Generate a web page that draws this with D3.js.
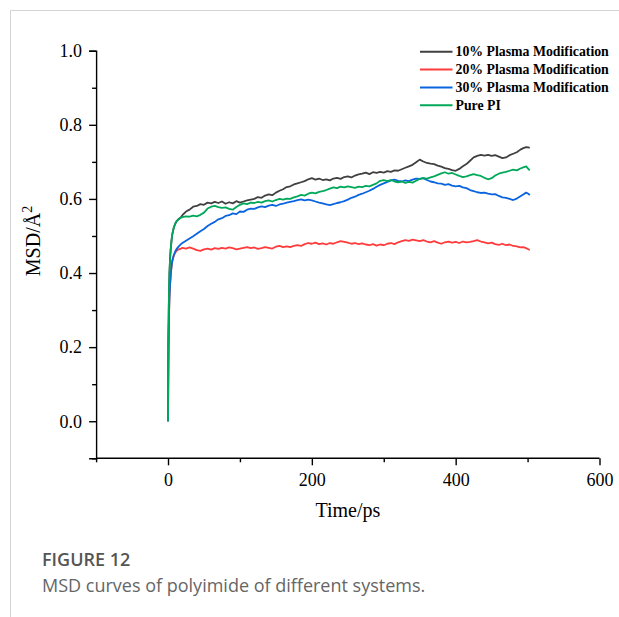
<!DOCTYPE html>
<html>
<head>
<meta charset="utf-8">
<script src="https://cdn.jsdelivr.net/npm/d3@7"></script>
<style>
  html, body { margin: 0; padding: 0; background: #fff; }
  svg { display: block; }
</style>
</head>
<body>
<svg id="chart" width="619" height="617"></svg>
<script>
// Simulation time (ps)
const times = [
  0, 0.5, 1, 1.5, 2, 3, 4, 5, 6, 8, 10, 12, 15, 18,
  20, 25, 30, 35, 40, 45, 50, 55, 60, 65,
  70, 75, 80, 85, 90, 95, 100, 105, 110, 115,
  120, 125, 130, 135, 140, 145, 150, 155, 160, 165,
  170, 175, 180, 185, 190, 195, 200, 205, 210, 215,
  220, 225, 230, 235, 240, 245, 250, 255, 260, 265,
  270, 275, 280, 285, 290, 295, 300, 305, 310, 315,
  320, 325, 330, 335, 340, 345, 350, 355, 360, 365,
  370, 375, 380, 385, 390, 395, 400, 405, 410, 415,
  420, 425, 430, 435, 440, 445, 450, 455, 460, 465,
  470, 475, 480, 485, 490, 494, 498, 501, 503
];

// MSD (Å^2) for each system
const msd10 = [
  0, 0.21, 0.30, 0.36, 0.40, 0.445, 0.47, 0.49, 0.505, 0.522, 0.533, 0.540, 0.546, 0.551,
  0.556, 0.566, 0.571, 0.579, 0.581, 0.586, 0.584, 0.590, 0.588, 0.592,
  0.589, 0.593, 0.587, 0.591, 0.588, 0.594, 0.590, 0.593, 0.596, 0.598,
  0.600, 0.605, 0.603, 0.609, 0.612, 0.610, 0.617, 0.622, 0.626, 0.632,
  0.634, 0.639, 0.642, 0.645, 0.648, 0.653, 0.656, 0.652, 0.655, 0.651,
  0.653, 0.650, 0.655, 0.657, 0.654, 0.659, 0.661, 0.658, 0.663, 0.666,
  0.668, 0.671, 0.667, 0.672, 0.670, 0.673, 0.671, 0.675, 0.673, 0.677,
  0.676, 0.680, 0.684, 0.688, 0.692, 0.699, 0.706, 0.701, 0.697, 0.695,
  0.694, 0.690, 0.687, 0.683, 0.681, 0.678, 0.676, 0.681, 0.688, 0.694,
  0.703, 0.712, 0.716, 0.719, 0.717, 0.719, 0.716, 0.718, 0.714, 0.710,
  0.712, 0.718, 0.722, 0.726, 0.733, 0.737, 0.740, 0.739, 0.738
];
const msd20 = [
  0, 0.16, 0.24, 0.29, 0.33, 0.37, 0.40, 0.42, 0.433, 0.447, 0.455, 0.460, 0.464, 0.466,
  0.468, 0.466, 0.469, 0.466, 0.462, 0.460, 0.464, 0.466, 0.463, 0.467,
  0.465, 0.468, 0.466, 0.469, 0.467, 0.464, 0.466, 0.468, 0.470, 0.467,
  0.469, 0.465, 0.467, 0.470, 0.468, 0.466, 0.471, 0.473, 0.470, 0.472,
  0.470, 0.473, 0.475, 0.473, 0.478, 0.481, 0.479, 0.482, 0.478, 0.480,
  0.477, 0.481, 0.479, 0.483, 0.486, 0.484, 0.482, 0.479, 0.481, 0.478,
  0.480, 0.477, 0.475, 0.478, 0.474, 0.477, 0.475, 0.479, 0.481, 0.478,
  0.483, 0.486, 0.489, 0.487, 0.490, 0.488, 0.486, 0.489, 0.485, 0.483,
  0.486, 0.482, 0.479, 0.483, 0.485, 0.482, 0.484, 0.481, 0.485, 0.483,
  0.484, 0.486, 0.489, 0.485, 0.483, 0.480, 0.482, 0.478, 0.476, 0.479,
  0.475, 0.477, 0.473, 0.472, 0.469, 0.470, 0.467, 0.464, 0.462
];
const msd30 = [
  0, 0.17, 0.25, 0.30, 0.335, 0.375, 0.40, 0.42, 0.433, 0.448, 0.458, 0.465, 0.472, 0.478,
  0.481, 0.487, 0.493, 0.499, 0.506, 0.513, 0.519, 0.527, 0.533, 0.538,
  0.545, 0.548, 0.554, 0.556, 0.561, 0.559, 0.566, 0.565, 0.571, 0.574,
  0.573, 0.577, 0.580, 0.578, 0.582, 0.584, 0.581, 0.585, 0.587, 0.590,
  0.592, 0.594, 0.597, 0.599, 0.596, 0.598, 0.596, 0.593, 0.590, 0.588,
  0.585, 0.583, 0.586, 0.589, 0.591, 0.594, 0.598, 0.603, 0.606, 0.611,
  0.614, 0.618, 0.622, 0.627, 0.633, 0.638, 0.642, 0.646, 0.650, 0.652,
  0.649, 0.647, 0.650, 0.648, 0.652, 0.655, 0.654, 0.656, 0.651, 0.647,
  0.645, 0.642, 0.641, 0.638, 0.640, 0.636, 0.634, 0.635, 0.631, 0.629,
  0.624, 0.621, 0.618, 0.616, 0.617, 0.614, 0.612, 0.613, 0.608, 0.604,
  0.603, 0.600, 0.597, 0.601, 0.607, 0.612, 0.617, 0.614, 0.610
];
const msdPure = [
  0, 0.21, 0.30, 0.36, 0.40, 0.445, 0.47, 0.49, 0.505, 0.522, 0.533, 0.540, 0.545, 0.549,
  0.551, 0.553, 0.552, 0.555, 0.553, 0.557, 0.563, 0.574, 0.579, 0.581,
  0.578, 0.576, 0.577, 0.573, 0.571, 0.578, 0.584, 0.588, 0.586, 0.590,
  0.589, 0.592, 0.590, 0.594, 0.596, 0.593, 0.597, 0.600, 0.598, 0.601,
  0.600, 0.604, 0.607, 0.611, 0.609, 0.614, 0.617, 0.615, 0.619, 0.621,
  0.624, 0.628, 0.631, 0.629, 0.633, 0.631, 0.634, 0.632, 0.630, 0.633,
  0.632, 0.635, 0.634, 0.638, 0.642, 0.649, 0.651, 0.648, 0.651, 0.647,
  0.645, 0.647, 0.643, 0.646, 0.644, 0.649, 0.654, 0.656, 0.655, 0.658,
  0.661, 0.665, 0.669, 0.672, 0.668, 0.670, 0.666, 0.662, 0.659, 0.661,
  0.664, 0.667, 0.664, 0.662, 0.657, 0.653, 0.656, 0.663, 0.668, 0.671,
  0.673, 0.676, 0.679, 0.677, 0.682, 0.685, 0.688, 0.681, 0.677
];

const seriesNames = ["10% Plasma Modification", "20% Plasma Modification", "30% Plasma Modification", "Pure PI"];
const seriesColors = ["#404040", "#ff3b3b", "#0a64e0", "#00a859"];
const seriesValues = [msd10, msd20, msd30, msdPure];

const xMajorTicks = [0, 200, 400, 600];
const xMinorTicks = [-100, 100, 300, 500];
const yMajorTicks = [0.0, 0.2, 0.4, 0.6, 0.8, 1.0];
const yMinorTicks = [-0.1, 0.1, 0.3, 0.5, 0.7, 0.9];

const svg = d3.select("#chart");

// page frame lines
svg.append("line").attr("x1", 10.5).attr("x2", 619).attr("y1", 10.5).attr("y2", 10.5)
  .attr("stroke", "#d4d4d4").attr("stroke-width", 1);
svg.append("line").attr("x1", 10.5).attr("x2", 10.5).attr("y1", 10.5).attr("y2", 617)
  .attr("stroke", "#d4d4d4").attr("stroke-width", 1);

const x = d3.scaleLinear().domain([-100, 600]).range([96.1, 599.5]);
const y = d3.scaleLinear().domain([-0.1, 1.0]).range([458.3, 50.7]);

const serif = "'Liberation Serif', 'Times New Roman', serif";

// axes: major ticks with labels, minor ticks without
const xAxis = svg.append("g").attr("transform", `translate(0,${y(-0.1)})`)
  .call(d3.axisBottom(x).tickValues(xMajorTicks).tickFormat(d3.format("d")).tickSize(7).tickPadding(8));
svg.append("g").attr("transform", `translate(0,${y(-0.1)})`)
  .call(d3.axisBottom(x).tickValues(xMinorTicks).tickFormat("").tickSize(4))
  .call(g => g.select(".domain").remove());

const yAxis = svg.append("g").attr("transform", `translate(${x(-100)},0)`)
  .call(d3.axisLeft(y).tickValues(yMajorTicks).tickFormat(d3.format(".1f")).tickSize(7).tickPadding(7));
svg.append("g").attr("transform", `translate(${x(-100)},0)`)
  .call(d3.axisLeft(y).tickValues(yMinorTicks).tickFormat("").tickSize(4))
  .call(g => g.select(".domain").remove());

svg.selectAll(".domain").attr("stroke", "#000").attr("stroke-width", 1.4);
svg.selectAll(".tick line").attr("stroke", "#000").attr("stroke-width", 1.4);
svg.selectAll(".tick text").attr("fill", "#000")
  .style("font-family", serif).style("font-size", "18px");
xAxis.selectAll(".domain").attr("d", `M${x(-100)},0H${x(600)}`);

// axis titles
svg.append("text")
  .attr("x", (x(-100) + x(600)) / 2).attr("y", 517)
  .attr("text-anchor", "middle")
  .style("font-family", serif).style("font-size", "20px")
  .text("Time/ps");

const yTitle = svg.append("text")
  .attr("transform", `translate(40,241) rotate(-90)`)
  .attr("text-anchor", "middle")
  .style("font-family", serif).style("font-size", "20px");
yTitle.append("tspan").text("MSD/Å");
yTitle.append("tspan").attr("dy", -8).style("font-size", "14px").text("2");

// curves
const line = d3.line()
  .x((d, i) => x(times[i]))
  .y(d => y(d));

seriesValues.forEach((vals, k) => {
  svg.append("path")
    .datum(vals)
    .attr("fill", "none")
    .attr("stroke", seriesColors[k])
    .attr("stroke-width", 1.8)
    .attr("stroke-linejoin", "round")
    .attr("d", line);
});

// legend
const legend = svg.append("g");
const legendY = [51.7, 69.6, 87.4, 105.2];
seriesNames.forEach((name, k) => {
  legend.append("line")
    .attr("x1", 420).attr("x2", 452.5)
    .attr("y1", legendY[k]).attr("y2", legendY[k])
    .attr("stroke", seriesColors[k]).attr("stroke-width", 2);
  legend.append("text")
    .attr("x", 455.5).attr("y", legendY[k] + 4.6)
    .style("font-family", serif).style("font-size", "13.8px").style("font-weight", "bold")
    .text(name);
});

// caption
svg.append("text")
  .attr("x", 42).attr("y", 566)
  .attr("fill", "#555")
  .style("font-family", "'Open Sans', sans-serif").style("font-size", "18px").style("font-weight", "600")
  .text("FIGURE 12");
svg.append("text")
  .attr("x", 42).attr("y", 592)
  .attr("fill", "#666")
  .style("font-family", "'Open Sans', sans-serif").style("font-size", "18px")
  .text("MSD curves of polyimide of different systems.");
</script>
</body>
</html>
